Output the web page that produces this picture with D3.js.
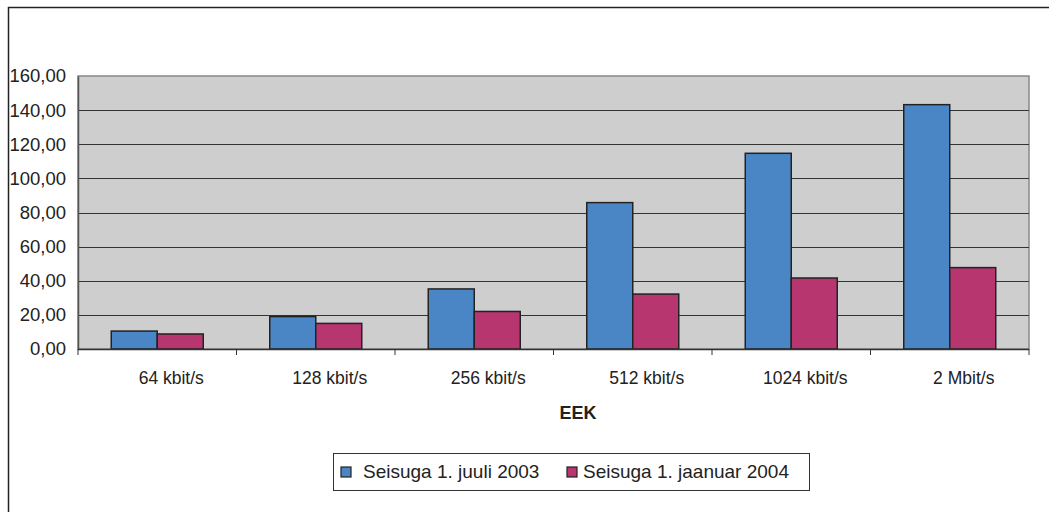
<!DOCTYPE html>
<meta charset="utf-8">
<style>
body { margin: 0; background: #fff; }
text { font-family: Arial, "Liberation Sans", sans-serif; fill: #222; }
</style>
<body>
<svg width="1049" height="512"></svg>
<script src="https://d3js.org/d3.v7.min.js"></script>
<script>
var categories = ["64 kbit/s", "128 kbit/s", "256 kbit/s", "512 kbit/s", "1024 kbit/s", "2 Mbit/s"];
var seriesNames = ["Seisuga 1. juuli 2003", "Seisuga 1. jaanuar 2004"];
var july2003 = [10.5, 19.0, 35.2, 85.8, 114.7, 143.2];
var jan2004 = [8.8, 15.0, 22.0, 32.2, 41.6, 47.7];
var yTicks = [0, 20, 40, 60, 80, 100, 120, 140, 160];
var colours = ["#4a86c5", "#b73670"];

var svg = d3.select("svg");

// outer frame (runs off the right and bottom edges)
svg.append("rect")
    .attr("x", 8.5).attr("y", 7.5)
    .attr("width", 1100).attr("height", 600)
    .attr("fill", "none").attr("stroke", "#222").attr("stroke-width", 1.5);

var plotLeft = 78, plotRight = 1029, plotTop = 76, plotBottom = 349;

var x = d3.scaleBand().domain(categories).range([plotLeft, plotRight]);
var y = d3.scaleLinear().domain([0, 160]).range([plotBottom, plotTop]);
var inner = d3.scaleBand().domain([0, 1]).range([0, 92]);

// plot background
svg.append("rect")
    .attr("x", plotLeft).attr("y", plotTop)
    .attr("width", plotRight - plotLeft).attr("height", plotBottom - plotTop)
    .attr("fill", "#cecece")
    .attr("stroke", "#888").attr("stroke-width", 1.5);

// gridlines
svg.append("g").selectAll("line")
    .data(yTicks.filter(function(d) { return d > 0 && d < 160; }))
    .enter().append("line")
    .attr("x1", plotLeft).attr("x2", plotRight)
    .attr("y1", function(d) { return Math.round(y(d)) + 0.5; })
    .attr("y2", function(d) { return Math.round(y(d)) + 0.5; })
    .attr("stroke", "#333").attr("stroke-width", 1.2);

// bars
var groups = svg.append("g").selectAll("g")
    .data(categories)
    .enter().append("g")
    .attr("transform", function(d) { return "translate(" + (x(d) + x.bandwidth() / 2 - 46) + ",0)"; });

groups.selectAll("rect")
    .data(function(d, i) { return [july2003[i], jan2004[i]]; })
    .enter().append("rect")
    .attr("x", function(d, j) { return inner(j); })
    .attr("width", inner.bandwidth())
    .attr("y", function(d) { return y(d); })
    .attr("height", function(d) { return y(0) - y(d); })
    .attr("fill", function(d, j) { return colours[j]; })
    .attr("stroke", "#222").attr("stroke-width", 1.5);

// y axis
var yAxis = svg.append("g")
    .attr("transform", "translate(" + plotLeft + ",0)")
    .call(d3.axisLeft(y).tickValues(yTicks).tickSize(0).tickPadding(12)
        .tickFormat(function(d) { return d3.format(".2f")(d).replace(".", ","); }));
yAxis.select(".domain").attr("stroke", "#555").attr("stroke-width", 1.5);
yAxis.selectAll("text").attr("font-size", "18.5px").attr("fill", "#222")
    .attr("font-family", "Arial, 'Liberation Sans', sans-serif");

// x axis
var xAxis = svg.append("g")
    .attr("transform", "translate(0," + plotBottom + ")");
xAxis.append("line")
    .attr("x1", plotLeft).attr("x2", plotRight).attr("y1", 0.5).attr("y2", 0.5)
    .attr("stroke", "#333").attr("stroke-width", 1.5);
xAxis.selectAll(".tick")
    .data(categories.concat([null]))
    .enter().append("line")
    .attr("x1", function(d, i) { return plotLeft + i * x.bandwidth(); })
    .attr("x2", function(d, i) { return plotLeft + i * x.bandwidth(); })
    .attr("y1", 0).attr("y2", 6)
    .attr("stroke", "#333").attr("stroke-width", 1);
xAxis.selectAll("text")
    .data(categories)
    .enter().append("text")
    .attr("x", function(d) { return x(d) + x.bandwidth() / 2 + 14; })
    .attr("y", 35)
    .attr("text-anchor", "middle")
    .attr("font-size", "17.5px")
    .text(function(d) { return d; });

// axis title
svg.append("text")
    .attr("x", 578).attr("y", 419)
    .attr("text-anchor", "middle")
    .attr("font-size", "18px").attr("font-weight", "bold")
    .text("EEK");

// legend
var legend = svg.append("g").attr("transform", "translate(333,453)");
legend.append("rect")
    .attr("x", 0.5).attr("y", 0.5).attr("width", 476).attr("height", 37)
    .attr("fill", "#fff").attr("stroke", "#333").attr("stroke-width", 1);
var legendX = [8, 234];
seriesNames.forEach(function(name, i) {
    legend.append("rect")
        .attr("x", legendX[i]).attr("y", 14).attr("width", 10).attr("height", 10)
        .attr("fill", colours[i]).attr("stroke", "#222").attr("stroke-width", 1.2);
    legend.append("text")
        .attr("x", legendX[i] + (i === 0 ? 22 : 16)).attr("y", 25)
        .attr("font-size", "19px")
        .text(name);
});
</script>
</body>
